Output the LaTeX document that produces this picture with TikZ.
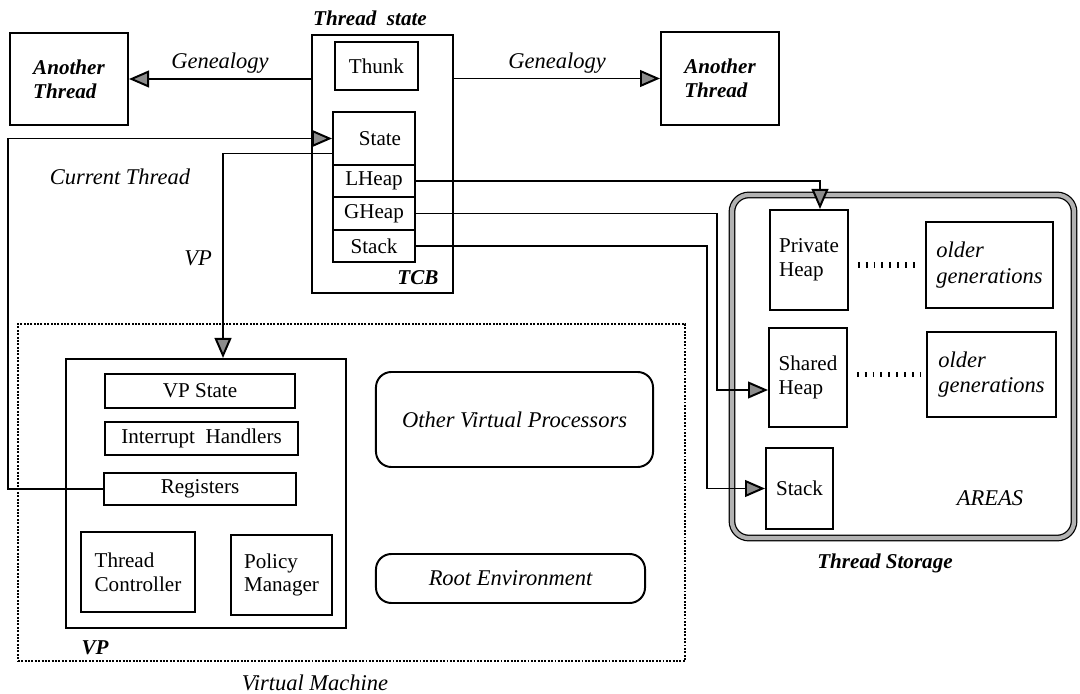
\documentclass[tikz,border=0pt]{standalone}
\usepackage{fontspec}
\setmainfont{Liberation Serif}
\usepackage{tikz}
\usetikzlibrary{arrows.meta, positioning, calc}

\begin{document}
\begin{tikzpicture}[
    x=0.025cm, y=-0.025cm,
    box/.style={rectangle, draw=black, line width=1.4pt, font=\fontsize{15}{17}\selectfont, align=left, inner sep=2pt},
    field/.style={rectangle, draw=black, line width=1.4pt, minimum width=2.05cm, font=\fontsize{15}{17}\selectfont, inner sep=2pt},
    roundbox/.style={rectangle, draw=black, line width=1.4pt, rounded corners=11pt, font=\fontsize{16}{18}\selectfont\itshape},
    tag/.style={font=\fontsize{16}{18}\selectfont\itshape, inner sep=1pt},
    btag/.style={font=\fontsize{15}{17}\selectfont\bfseries\itshape, inner sep=1pt},
    link/.style={line width=1.4pt, -{Triangle[length=0.5cm, width=0.42cm, fill=gray!50!black!60]}},
    gapdots/.style={line width=4pt, dash pattern=on 1.3pt off 4.3pt, shorten <=0.22cm, shorten >=0.15cm}
]
\useasboundingbox (0,0) rectangle (1080,694);

% Thread control block with its fields
\node[box, minimum width=3.525cm, minimum height=6.45cm] (tcb) at (382.5,164) {};
\node[btag] at (370,18) {Thread\enspace state};
\node[field, minimum width=2.075cm, minimum height=1.2cm] (tcb_thunk) at (376.5,66) {Thunk};
\node[field, minimum height=1.325cm] (tcb_state) at (374,138.5) {\hspace{0.3cm}State};
\node[field, minimum height=0.8cm]   (tcb_lheap) at (374,181) {LHeap};
\node[field, minimum height=0.825cm] (tcb_gheap) at (374,213.5) {GHeap};
\node[field, minimum height=0.8cm]   (tcb_stack) at (374,246) {Stack};
\node[btag] at (418,278) {TCB};

% Other threads
\node[box, btag, minimum width=2.95cm, minimum height=2.3cm] (th_left)  at (69,79)    {Another\\Thread};
\node[box, btag, minimum width=2.95cm, minimum height=2.33cm] (th_right) at (720,78.5) {Another\\Thread};

% Virtual machine and the virtual processor
\node[rectangle, draw=black, densely dotted, line width=1.4pt, minimum width=16.675cm, minimum height=8.425cm] (vm) at (351.5,492.5) {};
\node[tag] at (315,683) {Virtual Machine};
\node[box, minimum width=7cm, minimum height=6.725cm] (vp) at (206,493.5) {};
\node[btag] at (95,648) {VP};
\node[box, align=center, minimum width=4.75cm, minimum height=0.85cm]  (vp_state)    at (200,391)   {VP State};
\node[box, align=center, minimum width=4.825cm, minimum height=0.825cm] (vp_handlers) at (201.5,438.5) {Interrupt\enspace Handlers};
\node[box, align=center, minimum width=4.8cm, minimum height=0.8cm]    (vp_regs)     at (200,489)   {Registers};
\node[box, minimum width=2.85cm, minimum height=2cm]  (vp_ctrl)   at (138,572)   {Thread\\Controller};
\node[box, minimum width=2.525cm, minimum height=2cm] (vp_policy) at (281.5,575) {Policy\\Manager};
\node[roundbox, minimum width=6.925cm, minimum height=2.375cm] (other_vp) at (514.5,419.5) {Other Virtual Processors};
\node[roundbox, minimum width=6.725cm, minimum height=1.225cm] (root_env) at (510.5,578.5) {Root Environment};

% Thread storage areas
\node[rectangle, draw=black, double=gray!60, double distance=3pt, line width=0.9pt, rounded corners=12pt, minimum width=8.55cm, minimum height=8.575cm] (storage) at (903,366.5) {};
\node[btag] at (885,563) {Thread Storage};
\node[tag] at (990,498) {AREAS};
\node[box, minimum width=1.95cm, minimum height=2.5cm]   (priv_heap)   at (809,260)   {Private\\Heap};
\node[box, tag, minimum width=3.175cm, minimum height=2.15cm] (older_priv) at (989.5,265) {older\\generations};
\node[box, minimum width=1.95cm, minimum height=2.475cm] (shared_heap) at (808,377.5) {Shared\\Heap};
\node[box, tag, minimum width=3.225cm, minimum height=2.125cm] (older_shared) at (991.5,374.5) {older\\generations};
\node[box, minimum width=1.675cm, minimum height=2.025cm] (area_stack) at (799.5,488.5) {Stack};

% Genealogy links
\draw[link] (tcb.west |- th_left.east) -- node[tag, above=2pt] {Genealogy} (th_left.east);
\draw[link] (tcb.east |- th_right.west) -- node[tag, above=2pt] {Genealogy} (th_right.west);

% Current thread and VP links
\coordinate (cur_corner) at (8,138.5);
\draw[link] (vp_regs.west) -| (cur_corner) -- (tcb_state.west);
\node[tag] at (120,177) {Current Thread};
\draw[link] ([yshift=-0.375cm]tcb_state.west) -| ([xshift=0.425cm]vp.north);
\node[tag] at (198,258) {VP};

% Heap and stack links
\draw[link] (tcb_lheap.east) -| ([xshift=0.275cm]priv_heap.north);
\coordinate (g_bend) at (717,390);
\draw[link] (tcb_gheap.east) -| (g_bend) -- (g_bend -| shared_heap.west);
\coordinate (s_bend) at (707,488.5);
\draw[link] (tcb_stack.east) -| (s_bend) -- (area_stack.west);

% Older generations
\draw[gapdots] (priv_heap.east |- older_priv.west) -- (older_priv.west);
\draw[gapdots] (shared_heap.east |- older_shared.west) -- (older_shared.west);

\end{tikzpicture}
\end{document}
